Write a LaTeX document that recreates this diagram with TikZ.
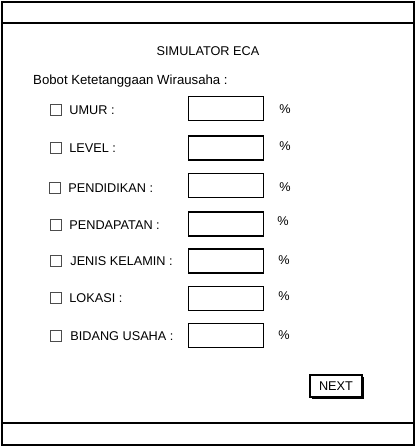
\documentclass[tikz,border=0pt]{standalone}
\usepackage{fontspec}
\setmainfont{Liberation Sans}
\usetikzlibrary{positioning,shadows}

\begin{document}
\begin{tikzpicture}[x=1pt,y=-1pt,
        txt/.style={font=\fontsize{12.7}{14}\selectfont},
        lbl/.style={txt,anchor=west,inner sep=0pt},
        chk/.style={draw=black!70,line width=0.9pt,minimum size=11.5pt,inner sep=0pt},
        field/.style={draw,line width=1.7pt,minimum width=75pt,minimum height=24pt,inner sep=0pt},
        btn/.style={txt,draw,line width=1.2pt,fill=white,minimum width=52pt,minimum height=22pt,inner sep=0pt,
            drop shadow={shadow xshift=2.2pt,shadow yshift=-2.2pt,fill=black,opacity=1}}]
    \useasboundingbox (0,0) rectangle (416,447);
    % window frame
    \draw[line width=1.7pt] (2,2) rectangle (414,445);
    \draw[line width=1.7pt] (2,23) -- (414,23);
    \draw[line width=1.7pt] (2,423) -- (414,423);
    \node[txt] (title) at (208,51) {SIMULATOR ECA};
    \node[lbl, font=\fontsize{13.2}{15}\selectfont] (bobot) at (33,81) {Bobot Ketetanggaan Wirausaha :};
    % rows
    \node[chk] (cumur) at (56,110) {};
    \node[lbl, right=7pt of cumur] (lumur) {UMUR :};
    \node[field] (fumur) at (226,108.5) {};
    \node[txt] (pumur) at (285,109) {\%};
    \node[chk] (clevel) at (56,148) {};
    \node[lbl, right=7pt of clevel] (llevel) {LEVEL :};
    \node[field] (flevel) at (226,148) {};
    \node[txt] (plevel) at (285,146) {\%};
    \node[chk] (cdidik) at (55,188) {};
    \node[lbl, right=7pt of cdidik] (ldidik) {PENDIDIKAN :};
    \node[field] (fdidik) at (226,185.5) {};
    \node[txt] (pdidik) at (285,187) {\%};
    \node[chk] (cdapat) at (56,225) {};
    \node[lbl, right=7pt of cdapat] (ldapat) {PENDAPATAN :};
    \node[field] (fdapat) at (226,224) {};
    \node[txt] (pdapat) at (283,221) {\%};
    \node[chk] (cjenis) at (56,261) {};
    \node[lbl, right=8pt of cjenis] (ljenis) {JENIS KELAMIN :};
    \node[field] (fjenis) at (226,261) {};
    \node[txt] (pjenis) at (284,260) {\%};
    \node[chk] (clokasi) at (56,298) {};
    \node[lbl, right=7pt of clokasi] (llokasi) {LOKASI :};
    \node[field] (flokasi) at (226,298.5) {};
    \node[txt] (plokasi) at (284,296) {\%};
    \node[chk] (cbidang) at (56,336) {};
    \node[lbl, right=8pt of cbidang] (lbidang) {BIDANG USAHA :};
    \node[field] (fbidang) at (226,335.5) {};
    \node[txt] (pbidang) at (284,335) {\%};
    % button
    \node[btn] (next) at (336,386) {NEXT};
\end{tikzpicture}
\end{document}
